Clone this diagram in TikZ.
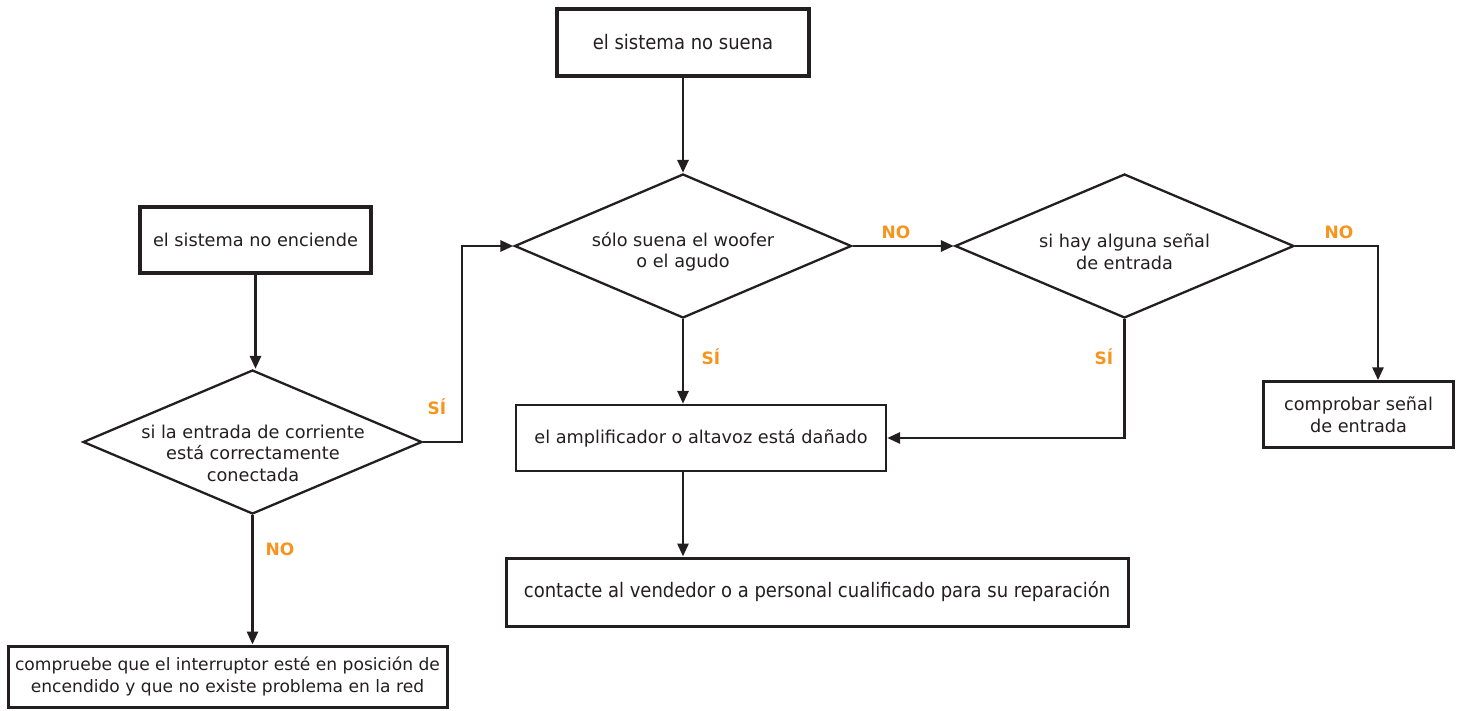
\documentclass[tikz,border=0pt]{standalone}
\usepackage{fontspec}
\usepackage{graphicx}
\setmainfont{DejaVu Sans}
\newcommand{\cnd}[1]{\scalebox{0.9}[1]{\fontsize{20}{24}\selectfont #1}}
\usetikzlibrary{shapes.geometric,arrows.meta}
\definecolor{ink}{HTML}{231F20}
\definecolor{orng}{HTML}{F7941D}
\begin{document}
\begin{tikzpicture}[x=1pt,y=-1pt,
  every node/.style={font=\fontsize{17.7}{21.5}\selectfont, text=ink},
  box/.style={draw=ink, line width=2.8pt, rectangle, inner sep=0pt, align=center},
  dec/.style={draw=ink, line width=2.3pt, diamond, inner sep=0pt},
  dtext/.style={align=center, inner sep=0pt},
  conn/.style={draw=ink, line width=2.8pt, -{Triangle[length=13pt,width=11pt]}},
  lbl/.style={font=\fontsize{17}{20}\selectfont\bfseries, text=orng}]
\useasboundingbox (0,0) rectangle (1464,711);
\node[box, line width=3.2pt, minimum width=252pt, minimum height=67pt] (s1) at (683,42.5) {\cnd{el sistema no suena}};
\node[dec, minimum width=337pt, minimum height=144pt] (d1) at (683,246) {};
\node[dtext] (d1t) at (683,252) {sólo suena el woofer\\o el agudo};
\node[dec, minimum width=339pt, minimum height=144pt] (d2) at (1124.5,246) {};
\node[dtext] (d2t) at (1124.5,252) {si hay alguna señal\\de entrada};
\node[box, line width=2.5pt, minimum width=190pt, minimum height=66pt] (cmp) at (1358.5,414.5) {comprobar señal\\de entrada};
\node[box, line width=2.3pt, minimum width=370pt, minimum height=66pt] (amp) at (701,438) {el amplificador o altavoz está dañado};
\node[box, line width=3pt, minimum width=622pt, minimum height=68pt] (cont) at (817,592) {\cnd{contacte al vendedor o a personal cualificado para su reparación}};
\node[box, line width=3.8pt, minimum width=231pt, minimum height=66pt] (enc) at (255.5,240) {el sistema no enciende};
\node[dec, minimum width=339pt, minimum height=144pt] (d3) at (252.5,442) {};
\node[dtext] (d3t) at (253,453) {si la entrada de corriente\\está correctamente\\conectada};
\node[box, line width=3pt, minimum width=439pt, minimum height=61pt, font=\fontsize{17.1}{21.5}\selectfont] (bot) at (227.5,676.5) {compruebe que el interruptor esté en posición de\\encendido y que no existe problema en la red};
\coordinate (c1) at (1378,246);
\coordinate (c2) at (462,442);
\draw[conn] (s1.south) -- (d1.north);
\draw[conn] (d1.east) -- (d2.west);
\draw[conn] (d2.east) -- (c1) -- (c1 |- cmp.north);
\draw[conn] (d2.south) |- (amp.east);
\draw[conn] (d1.south) -- (d1.south |- amp.north);
\draw[conn] (d1.south |- amp.south) -- (d1.south |- cont.north);
\draw[conn] (enc.south) -- (enc.south |- d3.north);
\draw[conn] (d3.east) -- (c2) |- (d1.west);
\draw[conn] (d3.south) -- (d3.south |- bot.north);
\node[lbl] (n1) at (896,232) {NO};
\node[lbl] (n2) at (1339,232) {NO};
\node[lbl] (y1) at (711,357) {SÍ};
\node[lbl] (y2) at (1104,357) {SÍ};
\node[lbl] (y3) at (437,407) {SÍ};
\node[lbl] (n3) at (280,549) {NO};
\end{tikzpicture}
\end{document}
